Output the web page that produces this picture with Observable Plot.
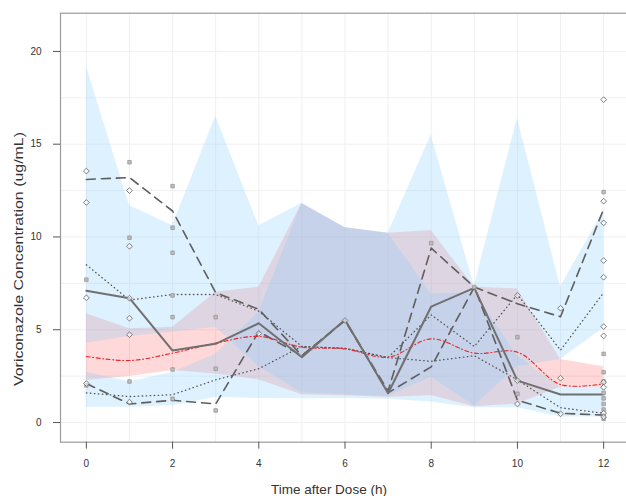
<!DOCTYPE html>
<html>
<head>
<meta charset="utf-8">
<script src="https://cdn.jsdelivr.net/npm/d3@7"></script>
<script src="https://cdn.jsdelivr.net/npm/@observablehq/plot@0.6"></script>
<style>
  html, body { margin: 0; padding: 0; background: #fff; overflow: hidden; }
  #chart { width: 626px; height: 496px; }
</style>
</head>
<body>
<div id="chart"></div>
<script>
// Nominal sampling times (h)
const hours = [0, 1, 2, 3, 4, 5, 6, 7, 8, 9, 10, 11, 12];

// Confidence band of the simulated 95th percentile
const upperLo = [4.27, 4.64, 4.87, 5.14, 3.0, 1.6, 1.5, 1.4, 2.44, 0.9, 3.0, 3.4, 5.1];
const upperHi = [19.2, 11.7, 10.6, 16.5, 10.6, 11.8, 10.5, 10.2, 15.5, 7.35, 16.4, 7.3, 11.4];
// Confidence band of the simulated median
const medLo = [2.26, 2.48, 2.8, 2.62, 2.3, 1.5, 1.45, 1.35, 1.46, 0.85, 1.0, 1.9, 1.9];
const medHi = [5.86, 5.05, 5.14, 7.02, 7.29, 11.8, 10.5, 10.2, 10.35, 7.3, 7.2, 3.4, 3.0];
// Confidence band of the simulated 5th percentile
const lowerLo = [0.83, 0.83, 0.9, 1.36, 1.29, 1.28, 1.3, 1.25, 1.1, 0.8, 0.8, 0.3, 0.3];
const lowerHi = [2.71, 2.2, 2.7, 3.7, 5.95, 11.8, 10.5, 10.2, 6.94, 7.0, 3.6, 1.9, 1.9];

// Percentile lines
const obsMedian = [7.1, 6.7, 3.88, 4.24, 5.35, 3.52, 5.54, 1.58, 6.25, 7.26, 2.26, 1.51, 1.51];
const simMedian = [3.56, 3.34, 3.74, 4.28, 4.64, 4.06, 3.97, 3.52, 4.51, 3.74, 3.79, 2.05, 2.09];
const dashHigh = [13.1, 13.2, 11.4, 7.0, 6.1, 3.6, 5.5, 1.7, 9.4, 7.3, 6.4, 5.7, 11.5];
const dashLow = [2.1, 1.0, 1.2, 1.0, 4.9, 3.6, 5.5, 1.6, 3.0, 7.3, 1.2, 0.5, 0.4];
const dotHigh = [8.5, 6.6, 6.9, 6.9, 6.0, 4.1, 4.0, 3.5, 5.8, 4.1, 6.9, 3.9, 7.0];
const dotLow = [1.6, 1.4, 1.5, 2.3, 2.9, 4.1, 4.0, 3.5, 3.3, 3.6, 2.3, 0.8, 0.5];

// Observed concentrations
const diamondTime = [0, 0, 0, 0, 1, 1, 1, 1, 1, 1, 4, 6, 10, 10, 10, 11, 11, 11,
  12, 12, 12, 12, 12, 12, 12, 12, 12, 12, 12];
const diamondConc = [13.55, 11.86, 6.72, 2.1, 12.5, 9.5, 6.7, 5.62, 4.73, 1.1, 4.8, 5.5, 6.85, 2.26, 1.0, 6.16, 2.39, 0.47,
  17.4, 11.93, 10.76, 8.73, 7.83, 5.17, 4.67, 2.17, 1.9, 0.5, 0.3];
const squareTime = [0, 0, 1, 1, 1, 2, 2, 2, 2, 2, 2, 2, 3, 3, 3, 8, 9, 10, 10,
  12, 12, 12, 12, 12, 12, 12, 12, 12, 12];
const squareConc = [7.7, 2.0, 14.03, 9.96, 2.21, 12.74, 10.5, 9.15, 6.85, 5.68, 2.86, 1.28, 5.68, 2.9, 0.65, 9.67, 7.3, 4.6, 1.55,
  12.42, 3.7, 2.71, 2.21, 1.6, 1.3, 1.0, 0.7, 0.4, 0.2];

// Axis ticks and grid
const xTicks = [0, 2, 4, 6, 8, 10, 12];
const yTicks = [0, 5, 10, 15, 20];
const gridX = hours;
const gridY = [0, 2.5, 5, 7.5, 10, 12.5, 15, 17.5, 20];

const bands = hours.map((h, i) => ({
  h, uLo: upperLo[i], uHi: upperHi[i], mLo: medLo[i], mHi: medHi[i], lLo: lowerLo[i], lHi: lowerHi[i]
}));
const series = (values) => hours.map((h, i) => ({h, v: values[i]}));
const diamonds = diamondTime.map((t, i) => ({t, c: diamondConc[i]}));
const squares = squareTime.map((t, i) => ({t, c: squareConc[i]}));

const blue = "#87cefa";
const font = "'Liberation Sans', Arial, sans-serif";

const chart = Plot.plot({
  width: 626,
  height: 496,
  marginLeft: 60,
  marginRight: -3,
  marginTop: 12.7,
  marginBottom: 54.3,
  style: {fontFamily: font, fontSize: "10px", color: "#333", background: "#fff"},
  x: {domain: [-0.6, 12.6], ticks: xTicks, tickSize: 7, tickPadding: 11, label: null},
  y: {domain: [-1.06, 22.06], ticks: yTicks, tickSize: 7, tickPadding: 12, label: null},
  marks: [
    Plot.ruleX(gridX, {stroke: "#f0f0f0", strokeWidth: 1}),
    Plot.ruleY(gridY, {stroke: "#f0f0f0", strokeWidth: 1}),
    Plot.areaY(bands, {x: "h", y1: "mLo", y2: "mHi", fill: "#ff0000", fillOpacity: 0.15}),
    Plot.areaY(bands, {x: "h", y1: "lLo", y2: "lHi", fill: blue, fillOpacity: 0.28}),
    Plot.areaY(bands, {x: "h", y1: "uLo", y2: "uHi", fill: blue, fillOpacity: 0.28}),
    Plot.line(series(dotHigh), {x: "h", y: "v", stroke: "#555", strokeWidth: 1.3, strokeDasharray: "0.5,3.5", strokeLinecap: "round"}),
    Plot.line(series(dotLow), {x: "h", y: "v", stroke: "#555", strokeWidth: 1.3, strokeDasharray: "0.5,3.5", strokeLinecap: "round"}),
    Plot.line(series(dashHigh), {x: "h", y: "v", stroke: "#5e5e5e", strokeWidth: 1.6, strokeDasharray: "9,6"}),
    Plot.line(series(dashLow), {x: "h", y: "v", stroke: "#5e5e5e", strokeWidth: 1.6, strokeDasharray: "9,6"}),
    Plot.line(series(simMedian), {x: "h", y: "v", stroke: "#e8262b", strokeWidth: 1.1, strokeDasharray: "4,2.5,1,2.5", curve: "catmull-rom"}),
    Plot.line(series(obsMedian), {x: "h", y: "v", stroke: "#707070", strokeWidth: 2}),
    Plot.dot(squares, {x: "t", y: "c", symbol: "square", r: 2, fill: "#bdbdbd", stroke: "#909090", strokeWidth: 0.7}),
    Plot.dot(diamonds, {x: "t", y: "c", symbol: "diamond2", r: 2.6, fill: "#fff", fillOpacity: 0.6, stroke: "#707070", strokeWidth: 0.9}),
    Plot.frame({stroke: "#9a9a9a", strokeWidth: 1.2}),
    Plot.axisX({ticks: xTicks, tickSize: 7, tickPadding: 11, stroke: "#555"}),
    Plot.axisY({ticks: yTicks, tickSize: 7, tickPadding: 12, stroke: "#555"})
  ]
});

document.getElementById("chart").appendChild(chart);

// Axis titles
const svg = d3.select(chart);
svg.append("text")
  .attr("x", 329).attr("y", 494)
  .attr("text-anchor", "middle")
  .attr("font-family", font)
  .attr("font-size", "13.5px")
  .attr("fill", "#333")
  .text("Time after Dose (h)");
svg.append("text")
  .attr("transform", "translate(23,259) rotate(-90)")
  .attr("text-anchor", "middle")
  .attr("font-family", font)
  .attr("font-size", "13.5px")
  .attr("textLength", 254)
  .attr("lengthAdjust", "spacingAndGlyphs")
  .attr("fill", "#333")
  .text("Voriconazole Concentration (ug/mL)");
</script>
</body>
</html>
